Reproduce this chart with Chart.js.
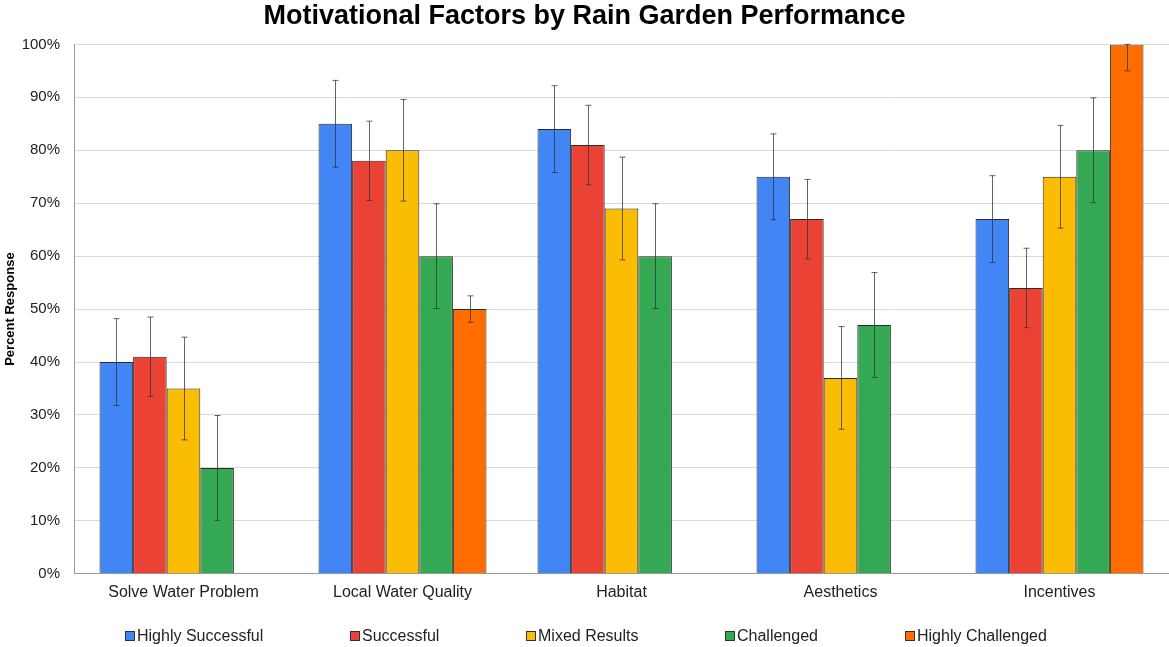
<!DOCTYPE html>
<html>
<head>
<meta charset="utf-8">
<title>Motivational Factors by Rain Garden Performance</title>
<script src="https://cdn.jsdelivr.net/npm/chart.js@4.4.1/dist/chart.umd.min.js"></script>
<style>
    body { margin: 0; background: #fff; font-family: "Liberation Sans", Arial, sans-serif; }
    #wrap { position: relative; width: 1169px; height: 647px; }
    #legend { position: absolute; left: 125px; top: 627px; display: flex; font-size: 16px; color: #222; }
    .legend-item { display: flex; align-items: center; white-space: nowrap; }
    .legend-box { width: 8px; height: 8px; border: 1px solid #333; margin-right: 2px; }
</style>
</head>
<body>
<div id="wrap">
    <canvas id="chart"></canvas>
    <div id="legend"></div>
</div>
<script>
// Categories and series
const categories = ['Solve Water Problem', 'Local Water Quality', 'Habitat', 'Aesthetics', 'Incentives'];
const seriesNames = ['Highly Successful', 'Successful', 'Mixed Results', 'Challenged', 'Highly Challenged'];
const seriesColors = ['#4285F4', '#EA4335', '#FBBC04', '#34A853', '#FF6D01'];

// Percent response per series (null = no bar)
const highlySuccessful = [40, 85, 84, 75, 67];
const successful = [41, 78, 81, 67, 54];
const mixedResults = [35, 80, 69, 37, 75];
const challenged = [20, 60, 60, 47, 80];
const highlyChallenged = [null, 50, null, null, 100];

// Error bar half-widths (percent)
const errHighlySuccessful = [8.2, 8.2, 8.2, 8.1, 8.2];
const errSuccessful = [7.5, 7.5, 7.5, 7.5, 7.5];
const errMixedResults = [9.7, 9.6, 9.7, 9.7, 9.7];
const errChallenged = [9.9, 9.9, 9.9, 9.9, 9.9];
const errHighlyChallenged = [null, 2.5, null, null, 5];

// Tick labels
const yTicks = [0, 10, 20, 30, 40, 50, 60, 70, 80, 90, 100];

const seriesValues = [highlySuccessful, successful, mixedResults, challenged, highlyChallenged];
const seriesErrors = [errHighlySuccessful, errSuccessful, errMixedResults, errChallenged, errHighlyChallenged];

// Legend cell widths so items line up like the original
const legendWidths = [225, 176, 199, 180, 160];

const FONT = '"Liberation Sans", Arial, sans-serif';

// Error bars drawn on top of the bars
const errorBars = {
    id: 'errorBars',
    afterDatasetsDraw(chart) {
        const ctx = chart.ctx;
        const yScale = chart.scales.y;
        ctx.save();
        ctx.strokeStyle = 'rgba(50, 50, 50, 0.75)';
        ctx.lineWidth = 1;
        chart.data.datasets.forEach((ds, i) => {
            const meta = chart.getDatasetMeta(i);
            meta.data.forEach((bar, j) => {
                const v = ds.data[j];
                const e = ds.errors[j];
                if (v == null || e == null) return;
                const top = yScale.getPixelForValue(Math.min(v + e, 100));
                const bot = yScale.getPixelForValue(v - e);
                const x = Math.round(bar.x) + 0.5;
                ctx.beginPath();
                ctx.moveTo(x, top);
                ctx.lineTo(x, bot);
                ctx.moveTo(x - 3, top);
                ctx.lineTo(x + 3, top);
                ctx.moveTo(x - 3, bot);
                ctx.lineTo(x + 3, bot);
                ctx.stroke();
            });
        });
        ctx.restore();
    }
};

new Chart(document.getElementById('chart'), {
    type: 'bar',
    data: {
        labels: categories,
        datasets: seriesNames.map((name, i) => ({
            label: name,
            data: seriesValues[i],
            errors: seriesErrors[i],
            backgroundColor: seriesColors[i],
            borderColor: '#2a2a2a',
            borderWidth: 1,
            categoryPercentage: 0.767,
            barPercentage: 1
        }))
    },
    options: {
        responsive: true,
        maintainAspectRatio: false,
        animation: false,
        layout: { padding: { top: 0, left: 0, right: 0, bottom: 36 } },
        plugins: {
            legend: { display: false },
            tooltip: { enabled: false },
            title: {
                display: true,
                text: 'Motivational Factors by Rain Garden Performance',
                color: '#000',
                font: { family: FONT, size: 27, weight: 'bold' },
                padding: { top: 0, bottom: 12 }
            }
        },
        scales: {
            x: {
                grid: { display: false, drawTicks: false },
                border: { color: '#9a9a9a', width: 1 },
                ticks: { color: '#222', padding: 9, font: { family: FONT, size: 16 } }
            },
            y: {
                min: 0,
                max: 100,
                afterBuildTicks: (axis) => { axis.ticks = yTicks.map(v => ({ value: v })); },
                afterFit: (axis) => { axis.width = 74; },
                grid: { color: '#dadada', lineWidth: 1, drawTicks: false },
                border: { color: '#9a9a9a', width: 1 },
                ticks: { color: '#222', padding: 14, font: { family: FONT, size: 15 }, callback: v => v + '%' },
                title: {
                    display: true,
                    text: 'Percent Response',
                    color: '#000',
                    font: { family: FONT, size: 13, weight: 'bold' },
                    padding: { top: 3, bottom: 1 }
                }
            }
        }
    },
    plugins: [errorBars]
});

// HTML legend
document.getElementById('legend').innerHTML = seriesNames.map((name, i) => `
    <div class="legend-item" style="width:${legendWidths[i]}px">
        <span class="legend-box" style="background:${seriesColors[i]}"></span>
        <span>${name}</span>
    </div>
`).join('');
</script>
</body>
</html>
